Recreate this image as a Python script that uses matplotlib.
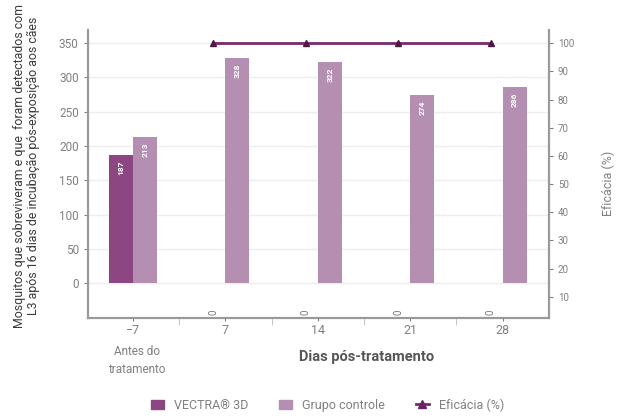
import numpy as np
import matplotlib.pyplot as plt
from matplotlib.lines import Line2D
from matplotlib.patches import Patch

plt.rcParams['font.family'] = ['Roboto', 'DejaVu Sans']

# data
days = ['\u22127', '7', '14', '21', '28']
vectra = [187, 0, 0, 0, 0]
controle = [213, 328, 322, 274, 286]
eficacia_days = [1, 2, 3, 4]
eficacia = [100, 100, 100, 100]

c_vectra = '#8c4682'
c_ctrl = '#b48fb2'
c_line = '#7b2a6d'
c_text = '#808080'

fig = plt.figure(figsize=(6.18, 4.19), dpi=100)
ax = fig.add_axes([0.142, 0.241, 0.746, 0.687])
ax2 = ax.twinx()

x = np.arange(len(days))
w = 0.26
ax.bar(x - w / 2, vectra, w, color=c_vectra, zorder=2)
ax.bar(x + w / 2, controle, w, color=c_ctrl, zorder=2)

# value labels
for i in range(len(days)):
    if vectra[i] > 0:
        ax.text(x[i] - w / 2, vectra[i] - 8, str(vectra[i]), color='white', fontsize=6,
                rotation=90, ha='center', va='top', fontweight='bold')
    else:
        ax.text(x[i] - w / 2, -42, '0', color='#777777', fontsize=7, rotation=90,
                ha='center', va='center')
    ax.text(x[i] + w / 2, controle[i] - 8, str(controle[i]), color='white', fontsize=6,
            rotation=90, ha='center', va='top', fontweight='bold')

ax.set_xlim(-0.49, 4.5)
ax.set_ylim(-51, 369)
ax.set_yticks(np.arange(0, 351, 50))
ax.set_xticks(x)
ax.set_xticklabels(days)
ax.set_xticks(np.arange(0.5, 4, 1), minor=True)
ax.tick_params(axis='x', which='major', length=2, colors=c_text, labelsize=9, pad=2)
ax.tick_params(axis='x', which='minor', length=5, color='#bbbbbb')
ax.tick_params(axis='y', length=3, colors=c_text, labelsize=8.5)
ax.grid(axis='y', color='#eeeeee', lw=1, zorder=0)

ax2.plot([d - w / 2 for d in eficacia_days], eficacia, color=c_line, lw=2,
         marker='^', markersize=5, markerfacecolor='#4e1a45', markeredgecolor='#4e1a45')
ax2.set_ylim(2.5, 104.6)
ax2.set_yticks(np.arange(10, 101, 10))
ax2.tick_params(axis='y', length=3, colors=c_text, labelsize=7)

for a in (ax, ax2):
    a.spines['top'].set_visible(False)
    for s in ('left', 'right', 'bottom'):
        a.spines[s].set_color('#999999')
        a.spines[s].set_linewidth(1.5)

fig.text(0.043, 0.603, 'Mosquitos que sobreviveram e que  foram detectados com\n'
         'L3 após 16 dias de incubação pós-exposição aos cães',
         rotation=90, ha='center', va='center', fontsize=8.9, color='#3a3a3a',
         linespacing=1.15)
fig.text(0.985, 0.563, 'Eficácia (%)', rotation=90, ha='center', va='center',
         fontsize=9, color=c_text)

fig.text(0.222, 0.14, 'Antes do\ntratamento', ha='center', va='center', color=c_text,
         fontsize=8.5, linespacing=1.5)
fig.text(0.593, 0.148, 'Dias pós-tratamento', ha='center', va='center', color='#555555',
         fontsize=10.5, fontweight='bold')

handles = [Patch(color=c_vectra), Patch(color=c_ctrl),
           Line2D([], [], color=c_line, lw=2, marker='^', markersize=6,
                  markerfacecolor='#6a2260', markeredgecolor='#6a2260')]
fig.legend(handles, ['VECTRA® 3D', 'Grupo controle', 'Eficácia (%)'], loc='lower center',
           bbox_to_anchor=(0.53, -0.01), ncol=3, frameon=False, fontsize=9,
           handlelength=1.0, handleheight=0.8, columnspacing=2.5, labelcolor=c_text)

fig.savefig('out.png', dpi=100)
